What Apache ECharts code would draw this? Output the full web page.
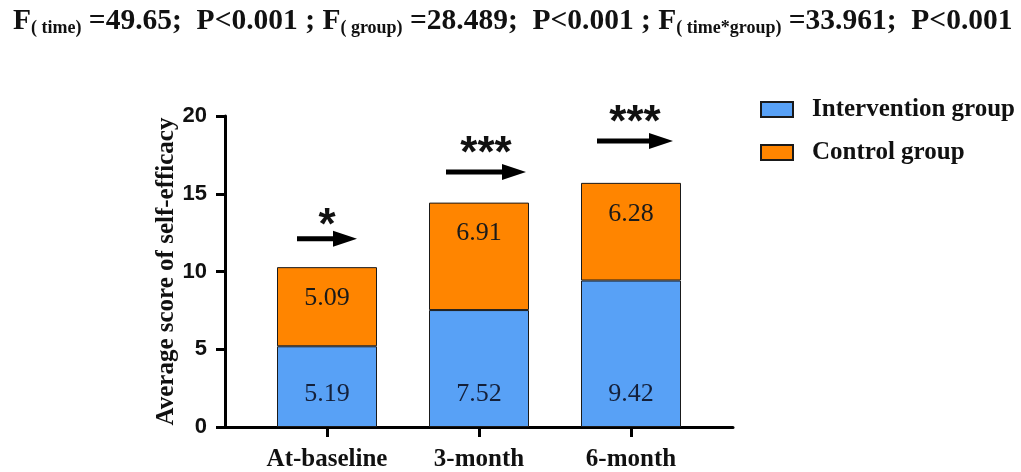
<!DOCTYPE html>
<html>
<head>
<meta charset="utf-8">
<script src="https://cdn.jsdelivr.net/npm/echarts@6/dist/echarts.min.js"></script>
<style>
	html, body { margin: 0; padding: 0; background: #fff; }
	#chart { width: 1021px; height: 472px; }
</style>
</head>
<body>
<div id="chart"></div>
<script>
	'use strict';

	// data
	var categories = ['At-baseline', '3-month', '6-month'];
	var intervention = [5.19, 7.52, 9.42];
	var control = [5.09, 6.91, 6.28];
	var yTicks = { min: 0, max: 20, interval: 5 };

	// significance annotations: arrow level, star level, mark
	var arrowLevel = [12.1, 16.4, 18.4];
	var starLevel = [12.9, 17.5, 19.5];
	var starText = ['*', '***', '***'];

	// arrow styling (pixels)
	var arrowHalf = [30, 40, 38];
	var arrowShift = [0, 7, 4];

	var serif = '"Liberation Serif", "Times New Roman", serif';
	var sans = '"Liberation Sans", Arial, sans-serif';

	var annoData = categories.map(function (c, i) {
		return [i, arrowLevel[i], starLevel[i]];
	});

	var chart = echarts.init(document.getElementById('chart'));
	var option = {
		animation: false,
		title: {
			left: 8,
			top: 0,
			text: '{b|F}{s|( time)}{b| =49.65;  P<0.001 ; F}{s|( group)}{b| =28.489;  P<0.001 ; F}{s|( time*group)}{b| =33.961;  P<0.001}',
			textStyle: {
				rich: {
					b: { fontFamily: serif, fontWeight: 'bold', fontSize: 29.5, lineHeight: 32, color: '#111' },
					s: { fontFamily: serif, fontWeight: 'bold', fontSize: 18, lineHeight: 32, verticalAlign: 'bottom', color: '#111' }
				}
			}
		},
		legend: {
			orient: 'vertical',
			left: 755,
			top: 92,
			itemWidth: 32,
			itemHeight: 15,
			itemGap: 18,
			icon: 'rect',
			data: ['Intervention group', 'Control group'],
			textStyle: {
				fontFamily: serif,
				fontWeight: 'bold',
				fontSize: 25,
				color: '#111',
				padding: [0, 0, 0, 14]
			}
		},
		grid: [
			{ left: 251, right: 314, top: 116, bottom: 45 },
			{ left: 225, right: 288, top: 116, bottom: 45 }
		],
		xAxis: [
			{
				type: 'category',
				gridIndex: 0,
				data: categories,
				axisLine: { show: false },
				axisTick: { show: true, alignWithLabel: true, length: 10, lineStyle: { color: '#000', width: 3 } },
				axisLabel: {
					interval: 0,
					hideOverlap: false,
					margin: 20,
					fontFamily: serif,
					fontWeight: 'bold',
					fontSize: 25,
					color: '#111'
				}
			},
			{
				type: 'value',
				gridIndex: 1,
				min: 0,
				max: 1,
				axisLine: { show: true, lineStyle: { color: '#000', width: 3 } },
				axisTick: { show: false },
				axisLabel: { show: false },
				splitLine: { show: false }
			}
		],
		yAxis: [
			{
				type: 'value',
				gridIndex: 0,
				min: yTicks.min,
				max: yTicks.max,
				interval: yTicks.interval,
				offset: 26,
				name: 'Average score of self-efficacy',
				nameLocation: 'middle',
				nameGap: 44,
				nameTextStyle: {
					fontFamily: serif,
					fontWeight: 'bold',
					fontSize: 25,
					color: '#111'
				},
				axisLine: { show: true, lineStyle: { color: '#000', width: 3 } },
				axisTick: { show: true, length: 9, lineStyle: { color: '#000', width: 3 } },
				axisLabel: {
					margin: 18,
					fontFamily: sans,
					fontWeight: 'bold',
					fontSize: 22,
					color: '#111'
				},
				splitLine: { show: false }
			},
			{
				type: 'value',
				gridIndex: 1,
				show: false
			}
		],
		series: [
			{
				name: 'Intervention group',
				type: 'bar',
				stack: 'total',
				barWidth: 100,
				data: intervention,
				itemStyle: { color: '#58a1f6', borderColor: '#1a1a1a', borderWidth: 1 },
				label: {
					show: true,
					position: 'insideBottom',
					distance: 20,
					fontFamily: serif,
					fontSize: 26,
					color: '#14203a'
				}
			},
			{
				name: 'Control group',
				type: 'bar',
				stack: 'total',
				barWidth: 100,
				data: control,
				itemStyle: { color: '#ff8500', borderColor: '#1a1a1a', borderWidth: 1 },
				label: {
					show: true,
					position: 'insideTop',
					distance: 18,
					fontFamily: serif,
					fontSize: 26,
					color: '#1a1a1a'
				}
			},
			{
				name: 'significance',
				type: 'custom',
				silent: true,
				data: annoData,
				renderItem: function (params, api) {
					var i = params.dataIndex;
					var a = api.coord([api.value(0), api.value(1)]);
					var s = api.coord([api.value(0), api.value(2)]);
					var cx = a[0] + arrowShift[i];
					var x0 = cx - arrowHalf[i];
					var x1 = cx + arrowHalf[i];
					var head = 24;
					return {
						type: 'group',
						children: [
							{
								type: 'line',
								shape: { x1: x0, y1: a[1], x2: x1 - head + 2, y2: a[1] },
								style: { stroke: '#000', lineWidth: 5 }
							},
							{
								type: 'polygon',
								shape: { points: [[x1 - head, a[1] - 8], [x1, a[1]], [x1 - head, a[1] + 8]] },
								style: { fill: '#000' }
							},
							{
								type: 'text',
								x: cx,
								y: s[1],
								style: {
									text: starText[i],
									fontFamily: sans,
									fontWeight: 'bold',
									fontSize: 44,
									fill: '#111',
									align: 'center',
									verticalAlign: 'middle'
								}
							}
						]
					};
				}
			}
		]
	};
	chart.setOption(option);
	window.addEventListener('resize', function () {
		chart.resize();
	});
</script>
</body>
</html>
